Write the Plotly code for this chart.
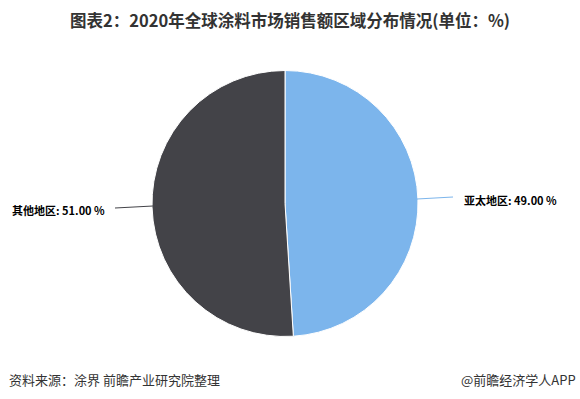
import plotly.graph_objects as go

labels = ["亚太地区", "其他地区"]
values = [49.00, 51.00]
colors = ["#7cb5ec", "#434348"]

W, H = 580, 399
fig = go.Figure(go.Pie(
    labels=labels, values=values, sort=False, direction="clockwise", rotation=0,
    marker=dict(colors=colors, line=dict(color="#ffffff", width=1)),
    textinfo="none", hoverinfo="label+percent", showlegend=False,
    domain=dict(x=[152 / W, 418 / W], y=[1 - 337 / H, 1 - 70 / H]),
))

font_cn = "Microsoft YaHei, Noto Sans CJK SC, sans-serif"

def px(x, y):
    return x / W, 1 - y / H

# right label
fig.add_shape(type="line", xref="paper", yref="paper",
              x0=px(417, 199)[0], y0=px(417, 199)[1], x1=px(453, 197)[0], y1=px(453, 197)[1],
              line=dict(color="#7cb5ec", width=1))
fig.add_annotation(xref="paper", yref="paper", x=px(462, 200)[0], y=px(462, 200)[1],
                   xanchor="left", yanchor="middle", showarrow=False,
                   text=f"<b>{labels[0]}: {values[0]:.2f} %</b>",
                   font=dict(family=font_cn, size=11, color="#000000"))
# left label
fig.add_shape(type="line", xref="paper", yref="paper",
              x0=px(115, 208)[0], y0=px(115, 208)[1], x1=px(153, 206)[0], y1=px(153, 206)[1],
              line=dict(color="#434348", width=1))
fig.add_annotation(xref="paper", yref="paper", x=px(107, 210)[0], y=px(107, 210)[1],
                   xanchor="right", yanchor="middle", showarrow=False,
                   text=f"<b>{labels[1]}: {values[1]:.2f} %</b>",
                   font=dict(family=font_cn, size=11, color="#000000"))

fig.add_annotation(xref="paper", yref="paper", x=px(290, 0)[0], y=px(0, 20)[1], xanchor="center", yanchor="middle",
                   showarrow=False, text="<b>图表2：2020年全球涂料市场销售额区域分布情况(单位：%)</b>",
                   font=dict(family=font_cn, size=16.5, color="#333333"))
fig.add_annotation(xref="paper", yref="paper", x=px(7, 0)[0], y=px(0, 379)[1], xanchor="left", yanchor="middle",
                   showarrow=False, text="资料来源：涂界 前瞻产业研究院整理",
                   font=dict(family=font_cn, size=13, color="#333333"))
fig.add_annotation(xref="paper", yref="paper", x=px(578, 0)[0], y=px(0, 379)[1], xanchor="right", yanchor="middle",
                   showarrow=False, text="@前瞻经济学人APP",
                   font=dict(family=font_cn, size=13, color="#333333"))

fig.update_layout(width=W, height=H, margin=dict(l=0, r=0, t=0, b=0),
                  paper_bgcolor="#ffffff", plot_bgcolor="#ffffff")
fig.write_html("out.html")
